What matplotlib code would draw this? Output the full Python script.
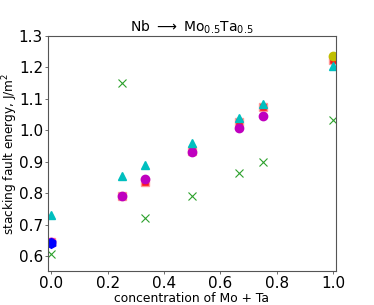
import matplotlib
matplotlib.use("Agg")
import matplotlib.pyplot as plt

# concentration of Mo + Ta
x_all = [0.0, 0.25, 1/3, 0.5, 2/3, 0.75, 1.0]

# series
sfe_red = [0.645, 0.79, 0.835, 0.935, 1.025, 1.075, 1.225]
sfe_cyan = [0.73, 0.855, 0.89, 0.96, 1.04, 1.085, 1.205]
sfe_green = [0.605, 1.15, 0.72, 0.79, 0.865, 0.90, 1.032]
x_mag = [0.0, 0.25, 1/3, 0.5, 2/3, 0.75]
sfe_mag = [0.645, 0.79, 0.845, 0.93, 1.008, 1.045]
x_blue = [0.0]
sfe_blue = [0.642]
x_yel = [1.0]
sfe_yel = [1.237]

fig, ax = plt.subplots(figsize=(3.74, 3.05), dpi=100)

ax.plot(x_all, sfe_red, 's', color='r', ms=6, alpha=0.9, mec='#ff9999', mew=1)
ax.plot(x_mag, sfe_mag, 'o', color='m', ms=6)
ax.plot(x_all, sfe_cyan, '^', color='c', ms=6)
ax.plot(x_all, sfe_green, 'x', color='tab:green', ms=6, mew=0.8)
ax.plot(x_blue, sfe_blue, 'h', color='b', ms=7)
ax.plot(x_yel, sfe_yel, 'o', color='y', ms=6)

ax.set_xlim(-0.012, 1.01)
ax.set_ylim(0.553, 1.3)
ax.set_xticks([0.0, 0.2, 0.4, 0.6, 0.8, 1.0])
ax.set_yticks([0.6, 0.7, 0.8, 0.9, 1.0, 1.1, 1.2, 1.3])
ax.tick_params(labelsize=11, length=2, width=0.6, pad=1.5, color='#555555')

ax.set_title(r"Nb $\longrightarrow$ Mo$_{0.5}$Ta$_{0.5}$", fontsize=10, pad=3)
ax.set_xlabel("concentration of Mo + Ta", fontsize=8.9)
ax.set_ylabel("stacking fault energy, J/m$^2$", fontsize=8.7)
ax.xaxis.set_label_coords(0.5, -0.092)
ax.yaxis.set_label_coords(-0.097, 0.5)

for s in ax.spines.values():
    s.set_color('#555555')

fig.subplots_adjust(left=0.128, right=0.898, top=0.882, bottom=0.112)
fig.savefig("out.png", dpi=100)
